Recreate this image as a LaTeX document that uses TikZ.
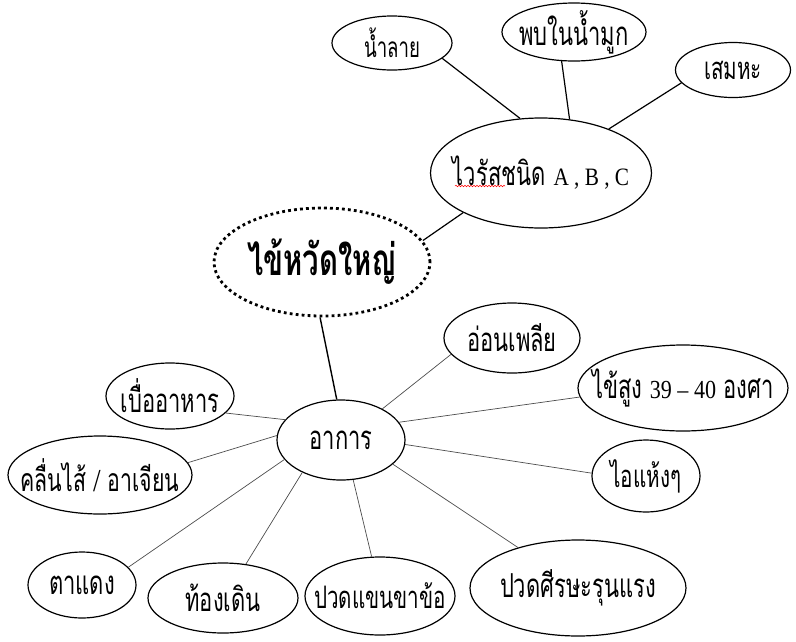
\documentclass[tikz,border=0pt]{standalone}
\usepackage{fontspec}
\setmainfont{Liberation Serif}
\newfontfamily\thaifont[Script=Thai, FakeStretch=0.665]{Loma}
\newfontfamily\latinfont[FakeStretch=0.85]{Liberation Serif}
\usetikzlibrary{shapes.geometric,decorations.pathmorphing}

\begin{document}
\begin{tikzpicture}[bubble/.style={ellipse, draw, line width=1.2pt, inner xsep=-20pt, inner ysep=-10pt, font=\thaifont\fontsize{33}{35}\selectfont}, flu/.style={ellipse, draw, inner xsep=-20pt, inner ysep=-10pt, line width=2.8pt, dash pattern=on 2.8pt off 3.2pt, font=\thaifont\bfseries\fontsize{44}{46}\selectfont}, twig/.style={line width=0.7pt, black!70}]
  \useasboundingbox (0pt, 0pt) rectangle (796pt, -641pt);
  \draw (322.0pt, -262.0pt)node[flu, minimum width=216pt, minimum height=108pt](0){ไข้หวัดใหญ่};
  \draw (541.0pt, -173.0pt)node[bubble, minimum width=221pt, minimum height=110pt](1){ไวรัสชนิด\hspace{8pt}{\latinfont\fontsize{25}{27}\selectfont A , B , C}};
  \draw (392.0pt, -43.0pt)node[bubble, minimum width=120pt, minimum height=54pt, font=\thaifont\fontsize{28}{30}\selectfont](2){น้ำลาย};
  \draw (574.0pt, -32.0pt)node[bubble, minimum width=144pt, minimum height=58pt](3){พบในน้ำมูก};
  \draw (733.0pt, -70.0pt)node[bubble, minimum width=115pt, minimum height=55pt, font=\thaifont\fontsize{31}{33}\selectfont](4){เสมหะ};
  \draw (341.0pt, -440.0pt)node[bubble, minimum width=128pt, minimum height=80pt](5){อาการ};
  \draw (512.0pt, -338.0pt)node[bubble, minimum width=136pt, minimum height=70pt](6){อ่อนเพลีย};
  \draw (683.0pt, -388.0pt)node[bubble, minimum width=210pt, minimum height=86pt](7){ไข้สูง {\latinfont\fontsize{26}{28}\selectfont 39 – 40} องศา};
  \draw (646.0pt, -476.0pt)node[bubble, minimum width=108pt, minimum height=72pt, font=\thaifont\fontsize{31}{33}\selectfont](8){ไอแห้งๆ};
  \draw (578.0pt, -588.0pt)node[bubble, minimum width=216pt, minimum height=96pt](9){ปวดศีรษะรุนแรง};
  \draw (380.0pt, -596.0pt)node[bubble, minimum width=150pt, minimum height=78pt, font=\thaifont\fontsize{31}{33}\selectfont](10){ปวดแขนขาข้อ};
  \draw (223.0pt, -598.0pt)node[bubble, minimum width=150pt, minimum height=70pt](11){ท้องเดิน};
  \draw (82.0pt, -585.0pt)node[bubble, minimum width=108pt, minimum height=66pt](12){ตาแดง};
  \draw (100.0pt, -475.0pt)node[bubble, minimum width=184pt, minimum height=78pt, font=\thaifont\fontsize{32}{34}\selectfont](13){คลื่นไส้ {\latinfont /} อาเจียน};
  \draw (170.0pt, -396.0pt)node[bubble, minimum width=128pt, minimum height=66pt](14){เบื่ออาหาร};
  % spell-check mark
  \draw[red, line width=0.5pt, decorate, decoration={snake, amplitude=0.8pt, segment length=3pt}] (455.0pt, -186.0pt) -- (505.0pt, -186.0pt);
  \path[line width=1.2pt] (0.12) edge (1.207);
  \path[line width=1.2pt] (1.111) edge (2.343);
  \path[line width=1.2pt] (1.62) edge (3.247);
  \path[line width=1.2pt] (1.33) edge (4.194);
  \path[line width=1.4pt] (0.268) edge (5.96);
  \path[twig] (5.37) edge (6.195);
  \path[twig] (5.17) edge (7.185);
  \path[twig] (5.356) edge (8.177);
  \path[twig] (5.335) edge (9.146);
  \path[twig] (5.287) edge (10.102);
  \path[twig] (5.220) edge (11.56);
  \path[twig] (5.199) edge (12.21);
  \path[twig] (5.176) edge (13.8);
  \path[twig] (5.160) edge (14.343);
\end{tikzpicture}
\end{document}
